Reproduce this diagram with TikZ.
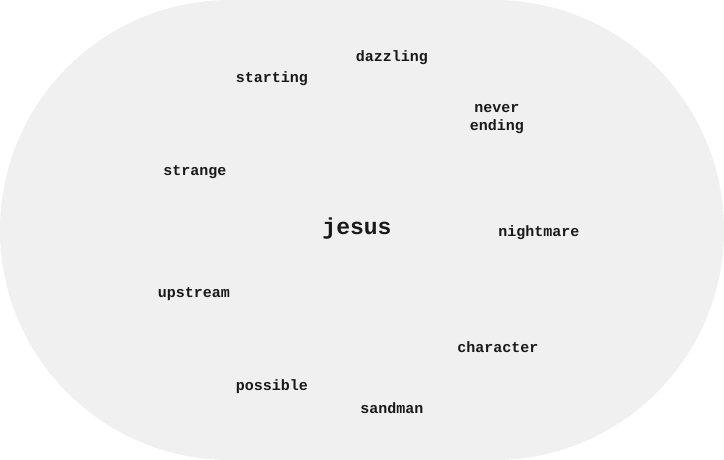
\documentclass[tikz,border=0pt]{standalone}
\usepackage{fontspec}
\setmonofont{Liberation Mono}
\usepackage{tikz}

\begin{document}
\begin{tikzpicture}
	[x=1pt,y=-1pt,
		word node/.style={font=\ttfamily\bfseries\fontsize{15}{18}\selectfont, text=black!90, align=center, inner sep=0pt},
		main node/.style={font=\ttfamily\bfseries\fontsize{23}{26}\selectfont, text=black!90, inner sep=0pt}]

	\useasboundingbox (0,0) rectangle (724,460);
	\fill[black!6, rounded corners=229.9pt] (0,0) rectangle (724,460);

	\node[main node] (J)    at (357,229)  {jesus};
	\node[word node] (Daz)  at (392,58)   {dazzling};
	\node[word node] (Sta)  at (272,79)   {starting};
	\node[word node] (Nev)  at (497,119)  {never\\ending};
	\node[word node] (Str)  at (195,172)  {strange};
	\node[word node] (Nig)  at (539,233)  {nightmare};
	\node[word node] (Ups)  at (194,294)  {upstream};
	\node[word node] (Cha)  at (498,347)  {character};
	\node[word node] (Pos)  at (272,387)  {possible};
	\node[word node] (San)  at (392,408)  {sandman};

\end{tikzpicture}
\end{document}
